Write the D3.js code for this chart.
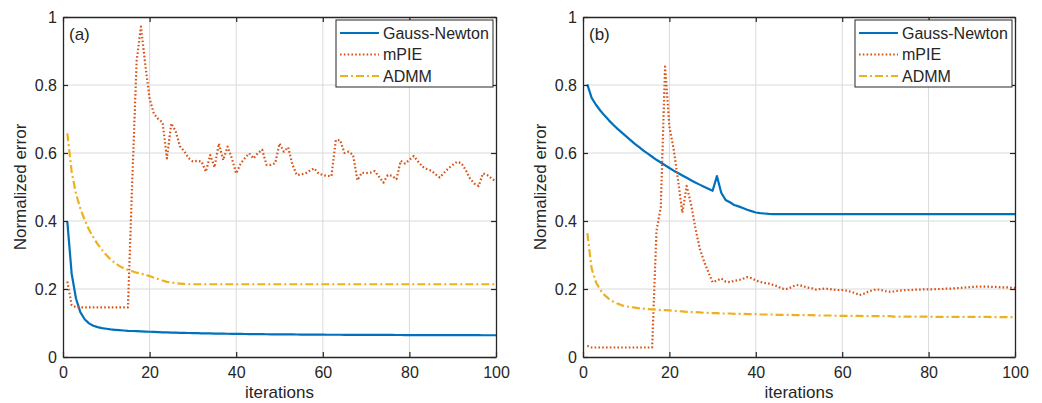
<!DOCTYPE html>
<html><head><meta charset="utf-8">
<script src="https://cdn.jsdelivr.net/npm/d3@7"></script>
<style>
html,body{margin:0;padding:0;background:#fff;}
text{font-family:"Liberation Sans",Arial,Helvetica,sans-serif;fill:#262626;}
</style></head><body>
<svg id="chart" width="1042" height="403"></svg>
<script>
const iterations = d3.range(1, 101);
const seriesNames = ["Gauss-Newton", "mPIE", "ADMM"];
const xTicks = [0, 20, 40, 60, 80, 100];
const yTicks = [0, 0.2, 0.4, 0.6, 0.8, 1];
const yTickLabels = ["0", "0.2", "0.4", "0.6", "0.8", "1"];
const panelLabels = ["(a)", "(b)"];

const gnA = [0.398,0.245,0.172,0.132,0.111,0.099,0.092,0.088,0.085,0.083,
0.081,0.080,0.079,0.078,0.077,0.0765,0.076,0.0755,0.0748,0.0742,
0.0737,0.0732,0.0727,0.0723,0.0719,0.0715,0.0712,0.0709,0.0706,0.0703,
0.0700,0.0697,0.0695,0.0692,0.0690,0.0688,0.0686,0.0684,0.0682,0.0680,
0.0678,0.0676,0.0675,0.0673,0.0672,0.0670,0.0669,0.0668,0.0667,0.0666,
0.0665,0.0664,0.0663,0.0662,0.0661,0.0660,0.0659,0.0658,0.0657,0.0656,
0.0655,0.0655,0.0654,0.0654,0.0653,0.0653,0.0652,0.0652,0.0651,0.0651,
0.0650,0.0650,0.0649,0.0649,0.0648,0.0648,0.0647,0.0647,0.0646,0.0646,
0.0645,0.0645,0.0645,0.0644,0.0644,0.0644,0.0643,0.0643,0.0643,0.0642,
0.0642,0.0642,0.0641,0.0641,0.0641,0.0641,0.0640,0.0640,0.0640,0.0640];

const mpieA = [0.222,0.153,0.146,0.146,0.146,0.146,0.146,0.146,0.146,0.146,
0.146,0.146,0.146,0.146,0.146,0.52,0.87,0.972,0.86,0.76,
0.715,0.700,0.690,0.584,0.687,0.665,0.620,0.605,0.585,0.575,
0.577,0.575,0.545,0.594,0.558,0.628,0.579,0.619,0.584,0.540,
0.568,0.585,0.599,0.584,0.600,0.610,0.565,0.565,0.570,0.628,
0.604,0.617,0.565,0.535,0.537,0.540,0.548,0.555,0.540,0.535,
0.533,0.532,0.638,0.638,0.600,0.604,0.594,0.520,0.542,0.541,
0.542,0.547,0.530,0.513,0.535,0.533,0.523,0.577,0.569,0.580,
0.591,0.575,0.560,0.553,0.548,0.538,0.528,0.542,0.555,0.565,
0.574,0.570,0.550,0.525,0.510,0.503,0.540,0.535,0.525,0.516];

const admmA = [0.658,0.545,0.480,0.437,0.403,0.375,0.352,0.332,0.315,0.300,
0.287,0.277,0.268,0.261,0.256,0.252,0.248,0.245,0.242,0.238,
0.233,0.229,0.225,0.221,0.219,0.217,0.216,0.215,0.214,0.214,
0.214,0.214,0.214,0.214,0.214,0.214,0.214,0.214,0.214,0.214,
0.214,0.214,0.214,0.214,0.214,0.214,0.214,0.214,0.214,0.214,
0.214,0.214,0.214,0.214,0.214,0.214,0.214,0.214,0.214,0.214,
0.214,0.214,0.214,0.214,0.214,0.214,0.214,0.214,0.214,0.214,
0.214,0.214,0.214,0.214,0.214,0.214,0.214,0.214,0.214,0.214,
0.214,0.214,0.214,0.214,0.214,0.214,0.214,0.214,0.214,0.214,
0.214,0.214,0.214,0.214,0.214,0.214,0.214,0.214,0.214,0.214];

const gnB = [0.802,0.762,0.742,0.725,0.710,0.696,0.683,0.671,0.660,0.649,
0.638,0.627,0.617,0.607,0.598,0.589,0.580,0.572,0.564,0.556,
0.548,0.541,0.534,0.527,0.520,0.513,0.507,0.501,0.495,0.489,
0.532,0.483,0.462,0.455,0.447,0.443,0.438,0.433,0.429,0.425,
0.423,0.422,0.421,0.4205,0.420,0.420,0.420,0.420,0.420,0.420,
0.420,0.420,0.420,0.420,0.420,0.420,0.420,0.420,0.420,0.420,
0.420,0.420,0.420,0.420,0.420,0.420,0.420,0.420,0.420,0.420,
0.420,0.420,0.420,0.420,0.420,0.420,0.420,0.420,0.420,0.420,
0.420,0.420,0.420,0.420,0.420,0.420,0.420,0.420,0.420,0.420,
0.420,0.420,0.420,0.420,0.420,0.420,0.420,0.420,0.420,0.420];

const mpieB = [0.033,0.028,0.028,0.028,0.028,0.028,0.028,0.028,0.028,0.028,
0.028,0.028,0.028,0.028,0.028,0.028,0.37,0.44,0.854,0.677,
0.610,0.520,0.424,0.503,0.450,0.380,0.320,0.282,0.250,0.220,
0.225,0.231,0.222,0.220,0.224,0.226,0.230,0.235,0.232,0.225,
0.221,0.218,0.216,0.212,0.208,0.201,0.200,0.204,0.210,0.212,
0.208,0.204,0.202,0.198,0.200,0.201,0.200,0.198,0.197,0.197,
0.195,0.192,0.188,0.182,0.186,0.192,0.196,0.199,0.197,0.194,
0.192,0.193,0.195,0.196,0.197,0.197,0.198,0.198,0.199,0.199,
0.199,0.200,0.200,0.201,0.201,0.202,0.203,0.204,0.205,0.206,
0.207,0.207,0.207,0.207,0.206,0.206,0.205,0.205,0.204,0.203];

const admmB = [0.364,0.260,0.220,0.197,0.182,0.171,0.163,0.157,0.152,0.149,
0.147,0.145,0.143,0.142,0.141,0.140,0.139,0.138,0.138,0.137,
0.136,0.135,0.134,0.133,0.132,0.132,0.131,0.130,0.130,0.129,
0.129,0.128,0.128,0.128,0.127,0.127,0.127,0.126,0.126,0.126,
0.125,0.125,0.125,0.125,0.124,0.124,0.124,0.124,0.123,0.123,
0.123,0.123,0.123,0.122,0.122,0.122,0.122,0.122,0.121,0.121,
0.121,0.121,0.121,0.121,0.120,0.120,0.120,0.120,0.120,0.120,
0.120,0.119,0.119,0.119,0.119,0.119,0.119,0.119,0.119,0.119,
0.118,0.118,0.118,0.118,0.118,0.118,0.118,0.118,0.118,0.118,
0.118,0.118,0.118,0.118,0.117,0.117,0.117,0.117,0.117,0.117];

const panelsData = [[gnA, mpieA, admmA], [gnB, mpieB, admmB]];

const colors = ["#0072BD", "#D95319", "#EDB120"];
const dashes = [null, "1.6 2.2", "8 3 2 3"];
const widths = [2.2, 2.2, 2.2];
const axisColor = "#262626";

const svg = d3.select("#chart");
const panelLayout = [{left:63, right:496, top:17, bottom:357, ylabX:20},
                     {left:583, right:1015, top:17, bottom:357, ylabX:540}];

panelLayout.forEach((L, pi) => {
  const x = d3.scaleLinear().domain([0, 100]).range([L.left, L.right]);
  const y = d3.scaleLinear().domain([0, 1]).range([L.bottom, L.top]);
  const g = svg.append("g");

  // grid
  g.append("g").selectAll("line").data(xTicks.slice(1, -1)).join("line")
    .attr("x1", d => x(d)).attr("x2", d => x(d)).attr("y1", L.top).attr("y2", L.bottom)
    .attr("stroke", "#dadada").attr("stroke-width", 1);
  g.append("g").selectAll("line").data(yTicks.slice(1, -1)).join("line")
    .attr("y1", d => y(d)).attr("y2", d => y(d)).attr("x1", L.left).attr("x2", L.right)
    .attr("stroke", "#dadada").attr("stroke-width", 1);

  // lines
  const data = panelsData[pi];
  data.forEach((vals, si) => {
    const line = d3.line().x((d, i) => x(iterations[i])).y(d => y(d));
    g.append("path").datum(vals).attr("d", line)
      .attr("fill", "none").attr("stroke", colors[si])
      .attr("stroke-width", widths[si])
      .attr("stroke-dasharray", dashes[si])
      .attr("stroke-linejoin", "round");
  });

  // axes (inward ticks on all sides)
  const tickLen = 5;
  const fmtY = d => yTickLabels[yTicks.indexOf(d)];
  const ax = [
    {gen: d3.axisBottom(x).tickValues(xTicks).tickSizeInner(-tickLen).tickSizeOuter(0).tickPadding(10), tr: `translate(0,${L.bottom})`},
    {gen: d3.axisTop(x).tickValues(xTicks).tickSizeInner(-tickLen).tickSizeOuter(0).tickFormat(""), tr: `translate(0,${L.top})`},
    {gen: d3.axisLeft(y).tickValues(yTicks).tickSizeInner(-tickLen).tickSizeOuter(0).tickPadding(6).tickFormat(fmtY), tr: `translate(${L.left},0)`},
    {gen: d3.axisRight(y).tickValues(yTicks).tickSizeInner(-tickLen).tickSizeOuter(0).tickFormat(""), tr: `translate(${L.right},0)`}
  ];
  ax.forEach(a => {
    const ag = g.append("g").attr("transform", a.tr).call(a.gen);
    ag.select(".domain").attr("stroke", axisColor).attr("stroke-width", 1.3);
    ag.selectAll(".tick line").attr("stroke", axisColor).attr("stroke-width", 1.2);
    ag.selectAll(".tick text").attr("fill", axisColor).style("font-size", "16px")
      .style("font-family", '"Liberation Sans",Arial,sans-serif');
  });

  // axis labels
  g.append("text").attr("x", (L.left + L.right) / 2).attr("y", 398)
    .attr("text-anchor", "middle").style("font-size", "17px").text("iterations");
  g.append("text").attr("transform", `translate(${L.ylabX},${(L.top + L.bottom) / 2}) rotate(-90)`)
    .attr("text-anchor", "middle").attr("dy", "0.35em").style("font-size", "17px").text("Normalized error");

  // panel label
  g.append("text").attr("x", L.left + 6).attr("y", 40).style("font-size", "17px").text(panelLabels[pi]);

  // legend
  const lx = L.right - 160, ly = 20, lw = 157, lh = 67;
  const leg = g.append("g");
  leg.append("rect").attr("x", lx).attr("y", ly).attr("width", lw).attr("height", lh)
    .attr("fill", "#fff").attr("stroke", axisColor).attr("stroke-width", 1);
  seriesNames.forEach((name, si) => {
    const ry = ly + 13 + si * 21.5;
    leg.append("line").attr("x1", lx + 4).attr("x2", lx + 43).attr("y1", ry).attr("y2", ry)
      .attr("stroke", colors[si]).attr("stroke-width", widths[si]).attr("stroke-dasharray", dashes[si]);
    leg.append("text").attr("x", lx + 47).attr("y", ry).attr("dy", "0.36em")
      .style("font-size", "16px").text(name);
  });
});
</script>
</body></html>
